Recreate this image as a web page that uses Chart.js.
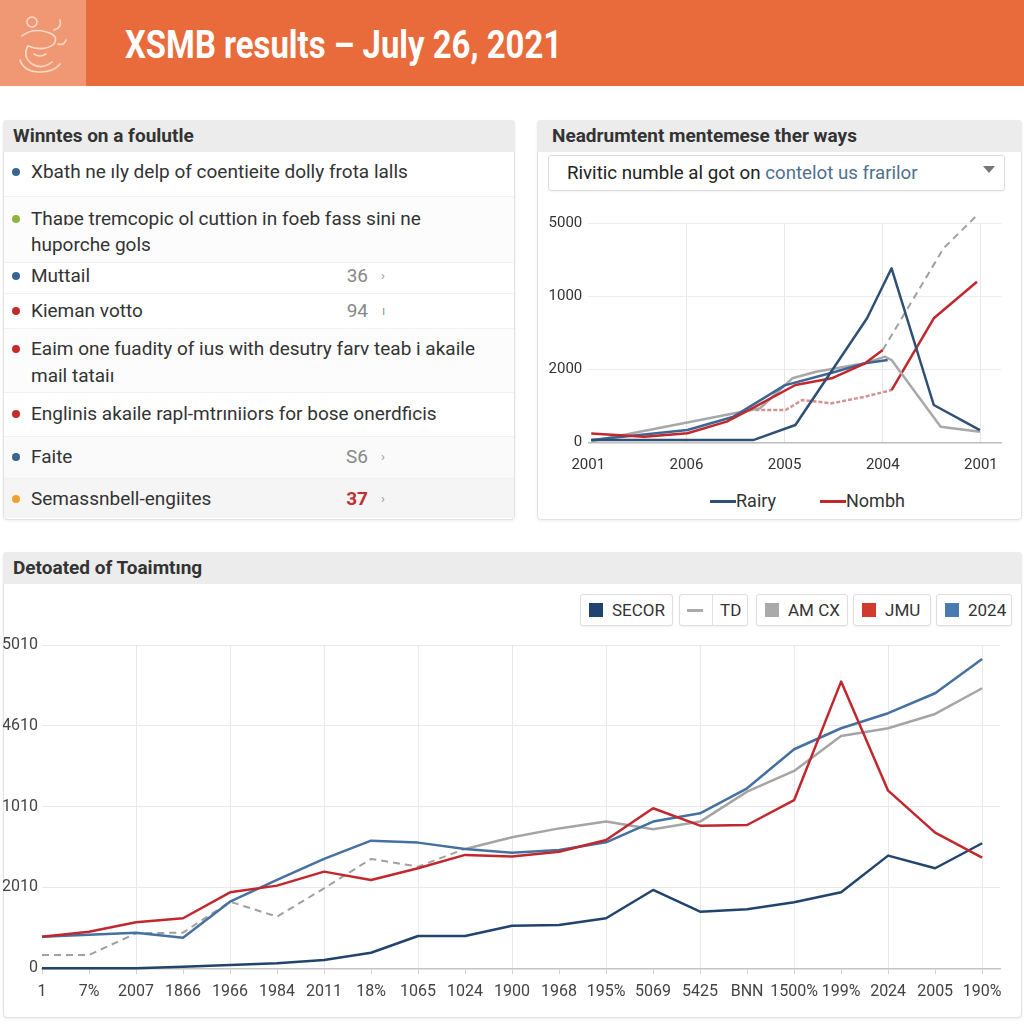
<!DOCTYPE html>
<html lang="en">
<head>
<meta charset="UTF-8" />
<title>XSMB results – July 26, 2021</title>
<script src="https://cdn.jsdelivr.net/npm/chart.js"></script>
<style>
    body {
        margin: 0;
        width: 1024px;
        height: 1024px;
        position: relative;
        overflow: hidden;
        background: #fff;
        font-family: Roboto, "Liberation Sans", Arial, sans-serif;
        color: #333;
    }
    .abs { position: absolute; white-space: nowrap; }
    .topbar { left: 0; top: 0; width: 1024px; height: 86px; background: #e96a3b; }
    .logo { left: 0; top: 0; width: 86px; height: 86px; background: #ef9873; }
    .title {
        left: 125px; top: 23px;
        color: #fff; font-weight: 700; font-size: 38px;
        transform-origin: left top; transform: scaleX(0.865);
    }
    .card {
        background: #fff;
        border: 1px solid #e2e2e2;
        border-radius: 4px;
        box-shadow: 0 1px 3px rgba(0,0,0,0.07);
        box-sizing: border-box;
    }
    .head {
        height: 32px; line-height: 32px;
        background: #ececec;
        border-radius: 4px 4px 0 0;
        font-weight: 700; font-size: 19px; color: #333;
        box-sizing: border-box; padding-left: 10px;
    }
    .row { left: 4px; width: 510px; box-sizing: border-box; border-top: 1px solid #f1f1f1; }
    .item { font-size: 19px; line-height: 26px; color: #333; }
    .dot { width: 8px; height: 8px; border-radius: 50%; }
    .num { font-size: 19px; line-height: 26px; color: #888; width: 40px; text-align: right; }
    .chev { font-size: 13px; line-height: 26px; color: #999; }
    .dropdown {
        left: 548px; top: 155px; width: 457px; height: 36px;
        border: 1px solid #dcdcdc; border-radius: 3px; box-sizing: border-box;
        font-size: 18.7px; line-height: 34px; padding-left: 18px; color: #222;
        box-shadow: 0 1px 2px rgba(0,0,0,0.05);
    }
    .dropdown span { color: #4f6f8f; }
    .caret { left: 983px; top: 166px; width: 0; height: 0;
        border-left: 6px solid transparent; border-right: 6px solid transparent; border-top: 7px solid #777; }
    .lg-line { height: 3px; }
    .lg-text { font-size: 18px; line-height: 24px; color: #333; }
    .lbox {
        top: 594px; height: 32px; background: #fff;
        border: 1px solid #dedede; border-radius: 3px; box-sizing: border-box;
        box-shadow: 0 1px 2px rgba(0,0,0,0.06);
        font-size: 17px; line-height: 30px; color: #333;
    }
    .sw { position: absolute; top: 8px; width: 14px; height: 14px; }
</style>
</head>
<body>

<div class="abs topbar"></div>
<div class="abs logo">
  <svg width="86" height="86" viewBox="0 0 86 86" fill="none" stroke="#fbd9c8" stroke-width="1.6" stroke-linecap="round">
    <circle cx="32" cy="22" r="5"/>
    <path d="M22 36 q12 -10 30 -2 q6 4 2 10 q-10 8 -26 2"/>
    <path d="M28 46 q-6 10 4 18 q10 6 20 -2"/>
    <path d="M20 60 q4 12 20 12 q14 0 20 -8"/>
    <path d="M54 30 q8 -2 6 -10 M58 44 q6 2 8 -4"/>
    <path d="M34 54 q6 4 12 0"/>
  </svg>
</div>
<div class="abs title">XSMB results – July 26, 2021</div>

<!-- left card -->
<div class="abs card" style="left:3px; top:120px; width:512px; height:400px;"></div>
<div class="abs head" style="left:3px; top:120px; width:512px;">Winntes on a foulutle</div>
<div class="abs row" style="top:196px; height:66px; background:#fcfcfc;"></div>
<div class="abs row" style="top:262px; height:31px;"></div>
<div class="abs row" style="top:293px; height:35px;"></div>
<div class="abs row" style="top:328px; height:64px; background:#fcfcfc;"></div>
<div class="abs row" style="top:392px; height:44px;"></div>
<div class="abs row" style="top:436px; height:42px; background:#fafafa;"></div>
<div class="abs row" style="top:478px; height:40px; background:#f5f5f5;"></div>

<div class="abs dot" style="left:12px; top:168px; background:#3d6594;"></div>
<div class="abs item" style="left:31px; top:159px;">Xbath ne ıly delp of coentieite dolly frota lalls</div>

<div class="abs dot" style="left:12px; top:215px; background:#8db33f;"></div>
<div class="abs item" style="left:31px; top:206px;">Thaɒe tremcopic ol cuttion in foeb fass sini ne</div>
<div class="abs item" style="left:31px; top:232px;">huporche gols</div>

<div class="abs dot" style="left:12px; top:272px; background:#3d6594;"></div>
<div class="abs item" style="left:31px; top:263px;">Muttail</div>
<div class="abs num" style="left:328px; top:263px;">36</div>
<div class="abs chev" style="left:381px; top:263px;">›</div>

<div class="abs dot" style="left:12px; top:307px; background:#c42b2b;"></div>
<div class="abs item" style="left:31px; top:298px;">Kieman votto</div>
<div class="abs num" style="left:328px; top:298px;">94</div>
<div class="abs chev" style="left:382px; top:298px;">ı</div>

<div class="abs dot" style="left:12px; top:345px; background:#c42b2b;"></div>
<div class="abs item" style="left:31px; top:336px;">Eaim one fuadity of ius with desutry farv teab i akaile</div>
<div class="abs item" style="left:31px; top:363px;">mail tataiı</div>

<div class="abs dot" style="left:12px; top:410px; background:#c42b2b;"></div>
<div class="abs item" style="left:31px; top:401px;">Englinis akaile rapl-mtrıniiors for bose onerdficis</div>

<div class="abs dot" style="left:12px; top:453px; background:#3d6594;"></div>
<div class="abs item" style="left:31px; top:444px;">Faite</div>
<div class="abs num" style="left:328px; top:444px;">S6</div>
<div class="abs chev" style="left:381px; top:444px;">›</div>

<div class="abs dot" style="left:12px; top:495px; background:#f0a32a;"></div>
<div class="abs item" style="left:31px; top:486px;">Semassnbell-engiites</div>
<div class="abs num" style="left:328px; top:486px; color:#c0302f; font-weight:700;">37</div>
<div class="abs chev" style="left:381px; top:486px;">›</div>

<!-- right card -->
<div class="abs card" style="left:537px; top:120px; width:485px; height:400px;"></div>
<div class="abs head" style="left:537px; top:120px; width:485px; padding-left:15px;">Neadrumtent mentemese ther ways</div>
<div class="abs dropdown">Rivitic numble al got on <span>contelot us frarilor</span></div>
<div class="abs caret"></div>
<div class="abs" style="left:540px; top:205px; width:472px; height:275px;">
  <canvas id="smallChart" width="472" height="275"></canvas>
</div>
<div class="abs lg-line" style="left:710px; top:500px; width:26px; background:#2f4f75;"></div>
<div class="abs lg-text" style="left:736px; top:489px;">Rairy</div>
<div class="abs lg-line" style="left:820px; top:500px; width:26px; background:#c0282d;"></div>
<div class="abs lg-text" style="left:846px; top:489px;">Nombh</div>

<!-- bottom card -->
<div class="abs card" style="left:3px; top:552px; width:1019px; height:466px;"></div>
<div class="abs head" style="left:3px; top:552px; width:1019px;">Detoated of Toaimtıng</div>

<div class="abs lbox" style="left:580px; width:93px;"><div class="sw" style="left:8px; background:#1f4470;"></div><span style="position:absolute; left:31px;">SECOR</span></div>
<div class="abs lbox" style="left:679px; width:69px;"><div style="position:absolute; left:7px; top:14px; width:16px; height:3px; background:#aaa;"></div><div style="position:absolute; left:32px; top:0; width:1px; height:30px; background:#e2e2e2;"></div><span style="position:absolute; left:40px;">TD</span></div>
<div class="abs lbox" style="left:756px; width:92px;"><div class="sw" style="left:8px; background:#aaaaaa;"></div><span style="position:absolute; left:31px;">AM CX</span></div>
<div class="abs lbox" style="left:853px; width:78px;"><div class="sw" style="left:8px; background:#d03a2f;"></div><span style="position:absolute; left:31px;">JMU</span></div>
<div class="abs lbox" style="left:936px; width:76px;"><div class="sw" style="left:8px; background:#4a7ab0;"></div><span style="position:absolute; left:31px;">2024</span></div>

<div class="abs" style="left:3px; top:630px; width:1015px; height:380px;">
  <canvas id="bigChart" width="1015" height="380"></canvas>
</div>

<script>
    // ---- small chart data (x in label steps, y in grid steps of 1000) ----
    const smallLabels = ['2001', '2006', '2005', '2004', '2001'];
    const smallYLabels = ['0', '2000', '1000', '5000'];

    const rairyX = [0.03, 1.68, 2.11, 2.84, 3.09, 3.52, 3.99];
    const rairyY = [30, 30, 237, 1700, 2384, 511, 168];

    const steelX = [0.03, 1.01, 1.48, 2.0, 2.5, 2.82, 3.05];
    const steelY = [30, 168, 351, 780, 960, 1082, 1127];

    const greyX = [0.03, 1.75, 2.08, 2.32, 2.82, 3.02, 3.09, 3.59, 3.99];
    const greyY = [15, 466, 877, 967, 1082, 1173, 1127, 214, 146];

    const redX = [0.03, 0.57, 1.01, 1.41, 1.64, 2.11, 2.48, 2.82, 3.0];
    const redY = [121, 77, 123, 283, 443, 785, 876, 1082, 1264];

    const nombhX = [1.64, 2.01, 2.18, 2.48, 2.82, 3.09, 3.52, 3.96];
    const nombhY = [443, 443, 579, 534, 625, 716, 1699, 2200];

    const greyDashX = [3.0, 3.62, 3.96];
    const greyDashY = [1264, 2658, 3110];

    // ---- big chart data ----
    const bigLabels = ['1', '7%', '2007', '1866', '1966', '1984', '2011', '18%', '1065', '1024', '1900',
                       '1968', '195%', '5069', '5425', 'BNN', '1500%', '199%', '2024', '2005', '190%'];
    const bigYLabels = ['0', '2010', '1010', '4610', '5010'];

    const secor = [0, 0, 0, 20, 40, 62, 103, 193, 400, 400, 527, 536, 619, 969, 700, 730, 817, 940, 1394, 1238, 1547];
    const td = [165, 165, 433, 441, 824, 639, 990, 1353, 1258, 1477, null, null, null, null, null, null, null, null, null, null, null];
    const amcx = [null, null, null, null, null, null, null, null, null, 1477, 1621, 1731, 1815, 1720, 1815, 2186, 2442, 2875, 2970, 3147, 3465];
    const jmu = [391, 453, 569, 619, 940, 1023, 1196, 1093, 1238, 1403, 1382, 1443, 1588, 1980, 1765, 1773, 2080, 3547, 2198, 1678, 1369];
    const s2024 = [391, 416, 441, 379, 824, 1093, 1353, 1579, 1555, 1477, 1431, 1464, 1559, 1815, 1918, 2227, 2710, 2970, 3156, 3403, 3828];

    Chart.defaults.font.family = 'Roboto, "Liberation Sans", Arial, sans-serif';
    Chart.defaults.animation = false;

    function pts(xs, ys) {
        return xs.map((x, i) => ({ x: x, y: ys[i] }));
    }
    function idxPts(ys) {
        return ys.map((y, i) => ({ x: i, y: y }));
    }

    const lineBase = { fill: false, pointRadius: 0, tension: 0, clip: false, borderJoinStyle: 'round' };

    new Chart(document.getElementById('smallChart').getContext('2d'), {
        type: 'line',
        data: {
            datasets: [
                { ...lineBase, data: pts(rairyX, rairyY), borderColor: '#2f4f75', borderWidth: 2.5 },
                { ...lineBase, data: pts(redX, redY), borderColor: '#c0282d', borderWidth: 2.5 },
                { ...lineBase, data: pts(steelX, steelY), borderColor: '#3b6797', borderWidth: 2.5 },
                { ...lineBase, data: pts(greyX, greyY), borderColor: '#a8a8a8', borderWidth: 2.5 },
                { ...lineBase, data: pts(nombhX, nombhY), borderColor: '#c0282d', borderWidth: 2.5,
                  segment: {
                      borderColor: c => c.p1.parsed.x <= 3.1 ? '#d59090' : '#c0282d',
                      borderDash: c => c.p1.parsed.x <= 3.1 ? [4, 2] : undefined
                  } },
                { ...lineBase, data: pts(greyDashX, greyDashY), borderColor: '#a0a0a0', borderWidth: 2, borderDash: [7, 5] }
            ]
        },
        options: {
            responsive: false,
            devicePixelRatio: 1,
            layout: { padding: { top: 18.3, right: 5, left: 0, bottom: 0 } },
            plugins: { legend: { display: false }, tooltip: { enabled: false } },
            scales: {
                x: {
                    type: 'linear', min: 0, max: 4.21,
                    afterBuildTicks: s => { s.ticks = smallLabels.map((_, i) => ({ value: i })); },
                    afterFit: s => { s.height = 37.7; },
                    ticks: { autoSkip: false, maxRotation: 0, padding: 14, color: '#333', font: { size: 15 },
                             callback: v => smallLabels[v] },
                    grid: { drawTicks: false, color: c => (c.tick && c.tick.value > 0) ? '#e6e6e6' : 'rgba(0,0,0,0)' },
                    border: { display: true, color: '#bdbdbd', width: 1.5 }
                },
                y: {
                    min: 0, max: 3000,
                    afterBuildTicks: s => { s.ticks = smallYLabels.map((_, i) => ({ value: i * 1000 })); },
                    afterFit: s => { s.width = 48.3; },
                    ticks: { padding: 6, color: '#333', font: { size: 15 }, callback: v => smallYLabels[v / 1000] },
                    grid: { drawTicks: false, color: '#ececec' },
                    border: { display: false }
                }
            }
        }
    });

    new Chart(document.getElementById('bigChart').getContext('2d'), {
        type: 'line',
        data: {
            datasets: [
                { ...lineBase, label: 'JMU', data: idxPts(jmu), borderColor: '#c0282d', borderWidth: 2.5 },
                { ...lineBase, label: 'SECOR', data: idxPts(secor), borderColor: '#22446c', borderWidth: 2.5 },
                { ...lineBase, label: '2024', data: idxPts(s2024), borderColor: '#4670a0', borderWidth: 2.5 },
                { ...lineBase, label: 'AM CX', data: idxPts(amcx), borderColor: '#a5a5a5', borderWidth: 2.5 },
                { ...lineBase, label: 'TD', data: idxPts(td), borderColor: '#a0a0a0', borderWidth: 2, borderDash: [7, 5] }
            ]
        },
        options: {
            responsive: false,
            devicePixelRatio: 1,
            layout: { padding: { top: 15, right: 18, left: 0, bottom: 0 } },
            plugins: { legend: { display: false }, tooltip: { enabled: false } },
            scales: {
                x: {
                    type: 'linear', min: 0, max: 20.38,
                    afterBuildTicks: s => { s.ticks = bigLabels.map((_, i) => ({ value: i })); },
                    afterFit: s => { s.height = 41.7; },
                    ticks: { autoSkip: false, maxRotation: 0, padding: 8, color: '#444', font: { size: 16 },
                             callback: v => bigLabels[v] },
                    grid: {
                        color: c => (c.tick && c.tick.value % 2 === 0 && c.tick.value > 0) ? '#e9e9e9' : 'rgba(0,0,0,0)',
                        tickColor: '#d0d0d0', tickLength: 6
                    },
                    border: { display: true, color: '#c4c4c4', width: 1.5 }
                },
                y: {
                    min: 0, max: 4000,
                    afterBuildTicks: s => { s.ticks = bigYLabels.map((_, i) => ({ value: i * 1000 })); },
                    afterFit: s => { s.width = 39; },
                    ticks: { padding: 4, color: '#444', font: { size: 16 }, callback: v => bigYLabels[v / 1000] },
                    grid: { drawTicks: false, color: '#e9e9e9' },
                    border: { display: false }
                }
            }
        }
    });
</script>

</body>
</html>
